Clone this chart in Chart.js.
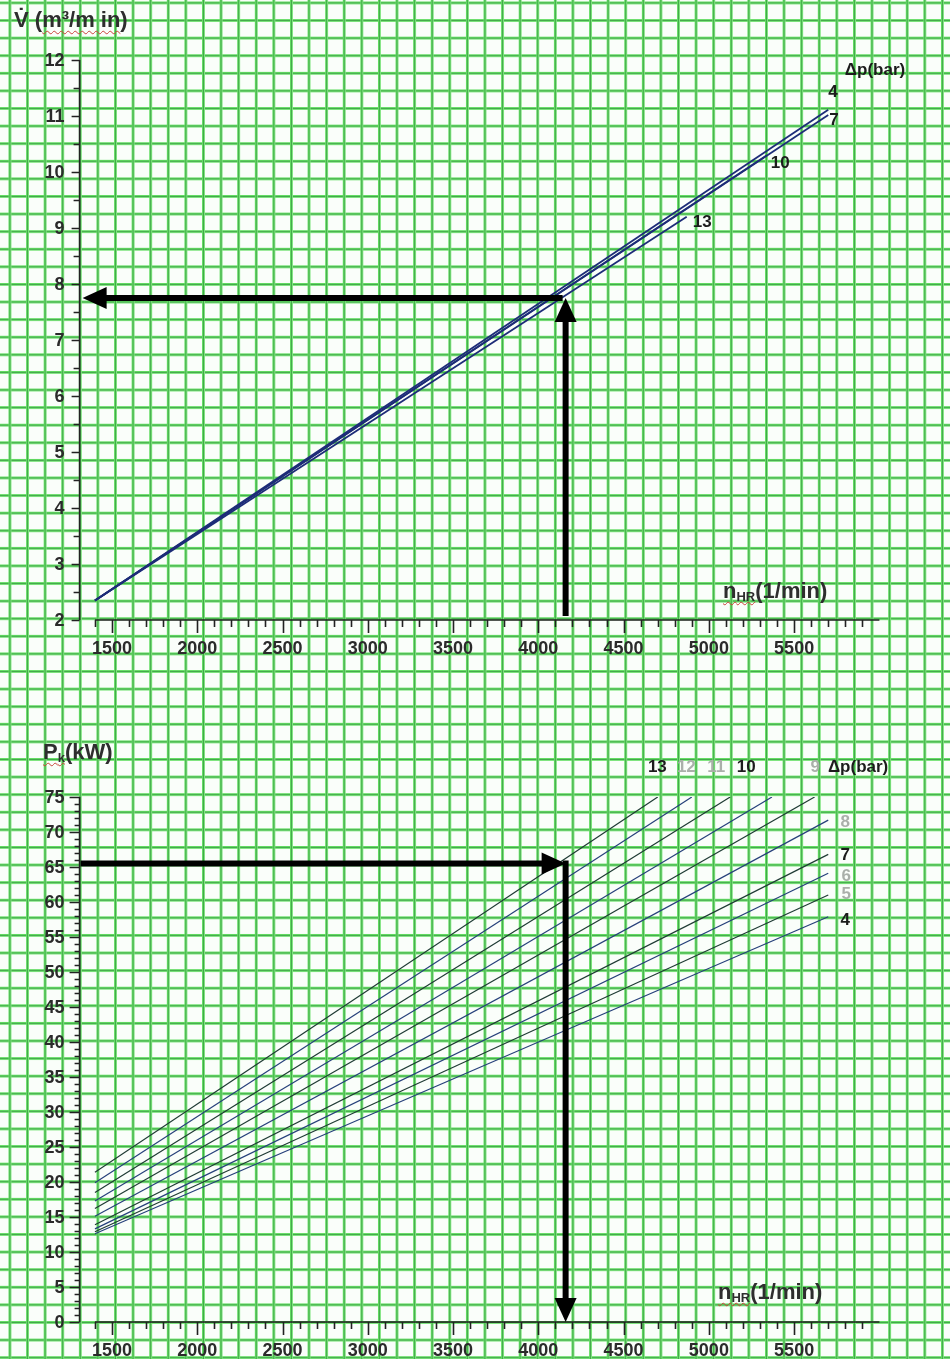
<!DOCTYPE html>
<html>
<head>
<meta charset="utf-8">
<script src="https://cdn.jsdelivr.net/npm/chart.js@4.4.0/dist/chart.umd.min.js"></script>
<style>
    html, body { margin: 0; padding: 0; }
    body {
        width: 950px;
        height: 1359px;
        position: relative;
        overflow: hidden;
        background-color: #fafefa;
        background-image:
            linear-gradient(to right, #62dc62 0, #62dc62 1px, #43a84b 1px, #43a84b 2px, #7de47d 2px, #7de47d 2.6px, transparent 2.6px),
            linear-gradient(to bottom, #62dc62 0, #62dc62 1px, #43a84b 1px, #43a84b 2px, #7de47d 2px, #7de47d 2.6px, transparent 2.6px);
        background-size: 17.6px 17.6px;
        background-position: 8.5px 0, 0 1.5px;
        font-family: "Liberation Sans", Arial, sans-serif;
    }
    canvas { position: absolute; left: 0; }
    #flow-chart { top: 0; }
    #power-chart { top: 680px; }
    .axis-title {
        position: absolute;
        font-weight: bold;
        font-size: 22px;
        color: #2e2e2e;
        white-space: nowrap;
        line-height: 1;
    }
    .axis-title sub { font-size: 13px; vertical-align: -3px; }
    .spell {
        text-decoration: underline wavy #c9423a;
        text-decoration-thickness: 1px;
        text-underline-offset: 3px;
    }
</style>
</head>
<body>

<canvas id="flow-chart" width="950" height="680"></canvas>
<canvas id="power-chart" width="950" height="679"></canvas>

<div class="axis-title" style="left:14px; top:9px;">V̇ (<span class="spell">m³/m in</span>)</div>
<div class="axis-title" style="left:723px; top:580px;"><span class="spell">n<sub>HR</sub></span>(1/min)</div>
<div class="axis-title" style="left:43px; top:741px;"><span class="spell">P<sub>k</sub></span>(kW)</div>
<div class="axis-title" style="left:718px; top:1281px;"><span class="spell">n<sub>HR</sub></span>(1/min)</div>

<script>
// compressor speed (1/min) on both charts
const speedLabels = [1500, 2000, 2500, 3000, 3500, 4000, 4500, 5000, 5500];

// delivery volume flow, one line per pressure difference
const flowPressures = [4, 7, 10, 13];
const flowSpeeds = [
    [1400, 5700],
    [1400, 5700],
    [1400, 5340],
    [1400, 4870]
];
const flowValues = [
    [2.35, 11.11],
    [2.35, 11.02],
    [2.35, 10.3],
    [2.35, 9.2]
];
const flowTicks = [2, 3, 4, 5, 6, 7, 8, 9, 10, 11, 12];

// coupling power, one line per pressure difference
const powerPressures = [4, 5, 6, 7, 8, 9, 10, 11, 12, 13];
const powerSpeeds = [
    [1400, 5700],
    [1400, 5700],
    [1400, 5700],
    [1400, 5700],
    [1400, 5700],
    [1400, 5620],
    [1400, 5370],
    [1400, 5125],
    [1400, 4900],
    [1400, 4700]
];
const powerValues = [
    [12.6, 57.9],
    [12.9, 61.0],
    [13.3, 64.1],
    [13.9, 66.8],
    [15.1, 71.7],
    [16.2, 75],
    [17.3, 75],
    [18.5, 75],
    [19.9, 75],
    [21.4, 75]
];
const powerTicks = [0, 5, 10, 15, 20, 25, 30, 35, 40, 45, 50, 55, 60, 65, 70, 75];

// worked example: 13 bar at 4160 1/min
const readSpeed = 4160;
const readFlow = 7.75;
const readPower = 65.5;

// curve captions: [text, speed, value, dark?]
const flowCaptions = [
    ['Δp(bar)', 5974, 11.82, true],
    ['4', 5728, 11.43, true],
    ['7', 5734, 10.93, true],
    ['10', 5418, 10.16, true],
    ['13', 4961, 9.11, true]
];
const powerCaptions = [
    ['13', 4698, 79.3, true],
    ['12', 4868, 79.3, false],
    ['11', 5043, 79.3, false],
    ['10', 5219, 79.3, true],
    ['9', 5623, 79.3, false],
    ['Δp(bar)', 5875, 79.3, true],
    ['8', 5799, 71.4, false],
    ['7', 5799, 66.7, true],
    ['6', 5805, 63.6, false],
    ['5', 5805, 61.1, false],
    ['4', 5799, 57.4, true]
];

const FONT = '"Liberation Sans", Arial, sans-serif';
const lineColors = ['#26407a', '#1f3b34'];

function buildDatasets(pressures, speeds, values, colorFn, width) {
    return pressures.map((p, i) => ({
        label: p + ' bar',
        data: speeds[i].map((s, j) => ({ x: s, y: values[i][j] })),
        showLine: true,
        borderColor: colorFn(i),
        borderWidth: width,
        pointRadius: 0,
        fill: false
    }));
}

function drawArrow(ctx, x1, y1, x2, y2) {
    const head = 24, half = 11, shaft = 6;
    const ang = Math.atan2(y2 - y1, x2 - x1);
    const bx = x2 - Math.cos(ang) * head, by = y2 - Math.sin(ang) * head;
    ctx.save();
    ctx.strokeStyle = '#000';
    ctx.fillStyle = '#000';
    ctx.lineWidth = shaft;
    ctx.lineCap = 'butt';
    ctx.beginPath();
    ctx.moveTo(x1, y1);
    ctx.lineTo(bx + Math.cos(ang), by + Math.sin(ang));
    ctx.stroke();
    ctx.beginPath();
    ctx.moveTo(x2, y2);
    ctx.lineTo(bx - Math.sin(ang) * half, by + Math.cos(ang) * half);
    ctx.lineTo(bx + Math.sin(ang) * half, by - Math.cos(ang) * half);
    ctx.closePath();
    ctx.fill();
    ctx.restore();
}

// axes with detached x-axis, tick marks, tick labels and curve captions
const paperAxes = {
    id: 'paperAxes',
    afterDatasetsDraw(chart, args, opts) {
        const ctx = chart.ctx;
        const xs = chart.scales.x, ys = chart.scales.y;
        const yBase = ys.getPixelForValue(ys.min);
        const xBase = xs.getPixelForValue(xs.min);
        ctx.save();
        ctx.strokeStyle = '#222';
        ctx.lineWidth = 1.6;
        ctx.beginPath();
        ctx.moveTo(xs.getPixelForValue(1400), yBase);
        ctx.lineTo(xs.getPixelForValue(xs.max), yBase);
        for (let v = 1400; v <= 5900; v += 100) {
            const px = Math.round(xs.getPixelForValue(v)) + 0.5;
            ctx.moveTo(px, yBase);
            ctx.lineTo(px, yBase + (v % 500 === 0 ? 13 : 7));
        }
        ctx.moveTo(xBase, yBase);
        ctx.lineTo(xBase, ys.getPixelForValue(ys.max));
        const n = Math.round((ys.max - ys.min) / opts.yMinor);
        for (let i = 0; i <= n; i++) {
            const v = ys.min + i * opts.yMinor;
            const py = Math.round(ys.getPixelForValue(v)) + 0.5;
            const major = i % opts.majorEvery === 0;
            ctx.moveTo(xBase, py);
            ctx.lineTo(xBase - (major ? opts.majorLen : opts.minorLen), py);
        }
        ctx.stroke();

        ctx.fillStyle = '#2b2b2b';
        ctx.font = 'bold 18px ' + FONT;
        ctx.textAlign = 'center';
        ctx.textBaseline = 'middle';
        speedLabels.forEach(v => ctx.fillText(String(v), xs.getPixelForValue(v), yBase + 29));
        ctx.textAlign = 'right';
        opts.yLabels.forEach(v => ctx.fillText(String(v), xBase - 15, ys.getPixelForValue(v) + 1));

        ctx.textAlign = 'center';
        ctx.font = 'bold 17px ' + FONT;
        opts.captions.forEach(([text, sx, sv, dark]) => {
            ctx.fillStyle = dark ? '#1c1c1c' : '#aab0aa';
            ctx.fillText(text, xs.getPixelForValue(sx), ys.getPixelForValue(sv));
        });
        ctx.restore();

        opts.arrows(ctx, xs, ys);
    }
};

function baseOptions(yMin, yMax, padding, axesOpts) {
    return {
        responsive: false,
        animation: false,
        layout: { padding },
        plugins: {
            legend: { display: false },
            tooltip: { enabled: false },
            paperAxes: axesOpts
        },
        scales: {
            x: { type: 'linear', min: 1310, max: 6000, display: false },
            y: { type: 'linear', min: yMin, max: yMax, display: false }
        }
    };
}

new Chart(document.getElementById('flow-chart'), {
    type: 'scatter',
    data: { datasets: buildDatasets(flowPressures, flowSpeeds, flowValues, () => '#1d2c78', 1.8) },
    options: baseOptions(2, 12, { left: 79.6, right: 70.6, top: 60, bottom: 60 }, {
        yMinor: 0.5, majorEvery: 2, majorLen: 8, minorLen: 6,
        yLabels: flowTicks,
        captions: flowCaptions,
        arrows: (ctx, xs, ys) => {
            const x = xs.getPixelForValue(readSpeed);
            const y = ys.getPixelForValue(readFlow);
            drawArrow(ctx, x, ys.getPixelForValue(2) - 4, x, y);
            drawArrow(ctx, x - 3, y, xs.getPixelForValue(xs.min) + 3, y);
        }
    }),
    plugins: [paperAxes]
});

new Chart(document.getElementById('power-chart'), {
    type: 'scatter',
    data: { datasets: buildDatasets(powerPressures, powerSpeeds, powerValues, i => lineColors[i % 2], 1.2) },
    options: baseOptions(0, 75, { left: 79.6, right: 70.6, top: 117, bottom: 37 }, {
        yMinor: 1, majorEvery: 5, majorLen: 10, minorLen: 5,
        yLabels: powerTicks,
        captions: powerCaptions,
        arrows: (ctx, xs, ys) => {
            const x = xs.getPixelForValue(readSpeed);
            const y = ys.getPixelForValue(readPower);
            drawArrow(ctx, xs.getPixelForValue(xs.min) + 1, y, x, y);
            drawArrow(ctx, x, y - 3, x, ys.getPixelForValue(0));
        }
    }),
    plugins: [paperAxes]
});
</script>
</body>
</html>
